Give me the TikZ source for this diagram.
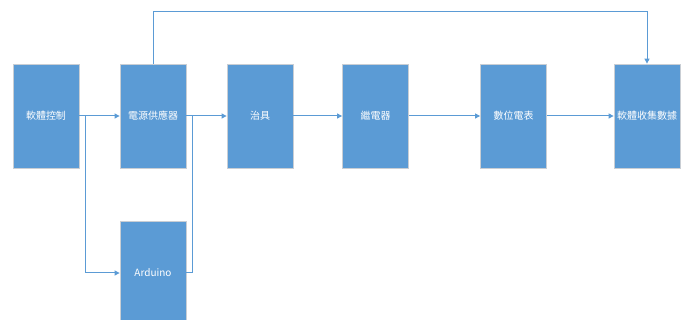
\documentclass[tikz,border=0pt]{standalone}
\usepackage{fontspec}
\newfontfamily\cjk{Noto Sans CJK TC}
\usetikzlibrary{arrows.meta}
\definecolor{boxblue}{HTML}{5B9BD5}
\definecolor{boxedge}{HTML}{C9CED4}
\tikzset{
  blk/.style={draw=boxedge, line width=0.8pt, fill=boxblue, minimum width=66pt, minimum height=104pt,
    inner sep=0pt, text=white, font=\cjk\fontsize{10}{12}\selectfont},
  conn/.style={draw=boxblue, line width=1pt},
  arr/.style={conn, -{Triangle[length=5pt,width=5pt]}}
}
\begin{document}
\begin{tikzpicture}[x=1pt,y=-1pt]
\useasboundingbox (0,0) rectangle (688,320);
\clip (0,0) rectangle (688,320);
\node[blk] (b1) at (46,116) {軟體控制};
\node[blk] (b2) at (153,116) {電源供應器};
\node[blk] (b3) at (260,116) {治具};
\node[blk] (b4) at (375.5,116) {繼電器};
\node[blk] (b5) at (513.5,116) {數位電表};
\node[blk] (b6) at (647,116) {軟體收集數據};
\node[blk] (ard) at (153,273) {Arduino};
\coordinate (j1) at (85,116);
\coordinate (j2) at (192,116);
\coordinate (top) at (153,12);
\draw[arr] (b1) -- (b2);
\draw[arr] (b2) -- (b3);
\draw[arr] (b3) -- (b4);
\draw[arr] (b4) -- (b5);
\draw[arr] (b5) -- (b6);
\draw[arr] (j1) |- (ard.west);
\draw[conn] (ard.east) -| (j2);
\draw[arr] (b2.north) -- (top) -| (b6.north);
\end{tikzpicture}
\end{document}
